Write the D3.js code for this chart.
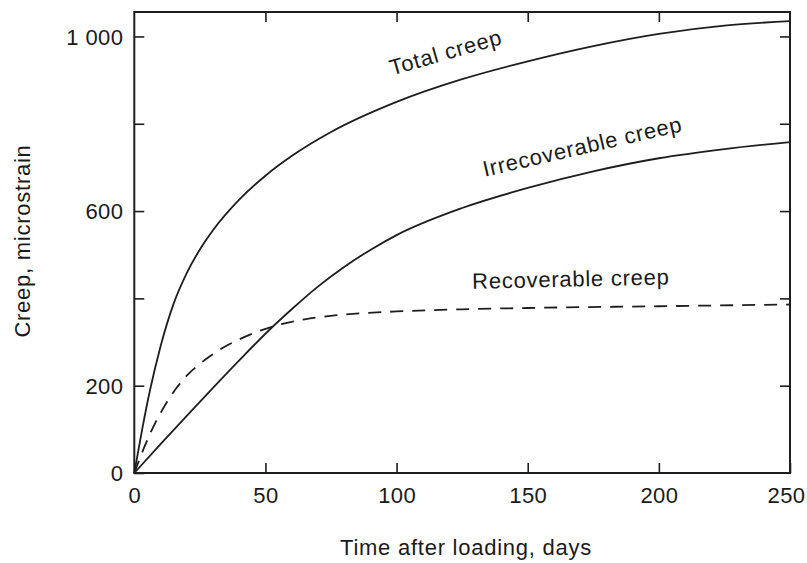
<!DOCTYPE html>
<html>
<head>
<meta charset="utf-8">
<script src="https://cdn.jsdelivr.net/npm/d3@7"></script>
<style>
  html, body { margin: 0; padding: 0; background: #fff; }
  svg { display: block; }
  text { font-family: "Liberation Sans", Arial, Helvetica, sans-serif; fill: #1a1a1a; }
</style>
</head>
<body>
<svg id="chart" width="807" height="563"></svg>
<script>
// ---- data ----
const totalDays = [0, 3, 6, 10, 15, 20, 25, 30, 40, 50, 60, 75, 100, 125, 150, 175, 200, 225, 250];
const totalCreep = [0, 100, 190, 290, 388, 458, 512, 556, 626, 681, 726, 781, 850, 902, 943, 978, 1006, 1025, 1035];

const irrecDays = [0, 10, 20, 30, 40, 50, 60, 70, 80, 90, 100, 125, 150, 175, 200, 225, 250];
const irrecCreep = [0, 66, 131, 195, 258, 319, 375, 427, 472, 511, 545, 607, 653, 691, 721, 742, 758];

const recDays = [0, 4, 8, 12, 16, 20, 25, 30, 35, 40, 48, 56, 65, 80, 100, 125, 150, 200, 250];
const recCreep = [0, 62, 115, 158, 194, 223, 250, 272, 291, 306, 326, 341, 352, 363, 370, 375, 378, 382, 386];

const xTicks = [0, 50, 100, 150, 200, 250];
const yTicks = [0, 200, 400, 600, 800, 1000];
const yTickLabels = ["0", "200", "", "600", "", "1 000"];

const seriesNames = ["Total creep", "Irrecoverable creep", "Recoverable creep"];
const xTitle = "Time after loading, days";
const yTitle = "Creep, microstrain";

// ---- layout ----
const svg = d3.select("#chart");
const mLeft = 134.3, mRight = 790, mTop = 12, mBottom = 473;
const x = d3.scaleLinear().domain([0, 250]).range([mLeft, mRight]);
const y = d3.scaleLinear().domain([0, 1056]).range([mBottom, mTop]);
const ink = "#1e1e1e";

const tickLen = 10;
const fontSize = 22;

const gx = svg.append("g").attr("transform", `translate(0,${mBottom})`)
  .call(d3.axisBottom(x).tickValues(xTicks).tickSize(-tickLen).tickPadding(30).tickFormat(d3.format("d")));
const gxTop = svg.append("g").attr("transform", `translate(0,${mTop})`)
  .call(d3.axisTop(x).tickValues(xTicks.slice(1, -1)).tickSize(-tickLen).tickFormat(""));
const gy = svg.append("g").attr("transform", `translate(${mLeft},0)`)
  .call(d3.axisLeft(y).tickValues(yTicks).tickSize(-tickLen).tickPadding(11)
    .tickFormat((d, i) => yTickLabels[i]));
const gyRight = svg.append("g").attr("transform", `translate(${mRight},0)`)
  .call(d3.axisRight(y).tickValues(yTicks.slice(1)).tickSize(-tickLen).tickFormat(""));

[gx, gxTop, gy, gyRight].forEach(g => {
  g.select(".domain").remove();
  g.selectAll(".tick line").attr("stroke", ink).attr("stroke-width", 1.6);
  g.selectAll(".tick text").attr("font-size", fontSize).attr("fill", ink).attr("letter-spacing", "0.4px");
  g.attr("font-family", null).attr("font-size", null);
});
gx.selectAll(".tick text").attr("dy", "0")
  .attr("dx", d => d === xTicks[xTicks.length - 1] ? -4 : 0);
gy.selectAll(".tick text").attr("dy", "0.36em");

// frame
svg.append("rect")
  .attr("x", mLeft).attr("y", mTop)
  .attr("width", mRight - mLeft).attr("height", mBottom - mTop)
  .attr("fill", "none").attr("stroke", ink).attr("stroke-width", 2);

// lines
const line = (xs, ys) => d3.line().x((d, i) => x(xs[i])).y((d, i) => y(ys[i])).curve(d3.curveMonotoneX)(ys);

svg.append("path").attr("d", line(totalDays, totalCreep))
  .attr("fill", "none").attr("stroke", ink).attr("stroke-width", 1.8);
svg.append("path").attr("d", line(irrecDays, irrecCreep))
  .attr("fill", "none").attr("stroke", ink).attr("stroke-width", 1.8);
svg.append("path").attr("d", line(recDays, recCreep))
  .attr("fill", "none").attr("stroke", ink).attr("stroke-width", 1.8)
  .attr("stroke-dasharray", "13,9");

// series labels
const labels = [
  { name: seriesNames[0], t: 119.5, v: 947, angle: -16 },
  { name: seriesNames[1], t: 171.5, v: 731, angle: -13 },
  { name: seriesNames[2], t: 166.5, v: 427, angle: -1.3 }
];
svg.selectAll("text.series").data(labels).enter().append("text")
  .attr("class", "series")
  .attr("transform", d => `translate(${x(d.t)},${y(d.v)}) rotate(${d.angle})`)
  .attr("text-anchor", "middle")
  .attr("font-size", fontSize)
  .attr("letter-spacing", "0.75px")
  .text(d => d.name);

// axis titles
svg.append("text")
  .attr("x", 466).attr("y", 555)
  .attr("text-anchor", "middle").attr("font-size", fontSize)
  .attr("letter-spacing", "0.75px")
  .text(xTitle);
svg.append("text")
  .attr("transform", `translate(30,241) rotate(-90)`)
  .attr("text-anchor", "middle").attr("font-size", fontSize)
  .attr("letter-spacing", "0.75px")
  .text(yTitle);
</script>
</body>
</html>
